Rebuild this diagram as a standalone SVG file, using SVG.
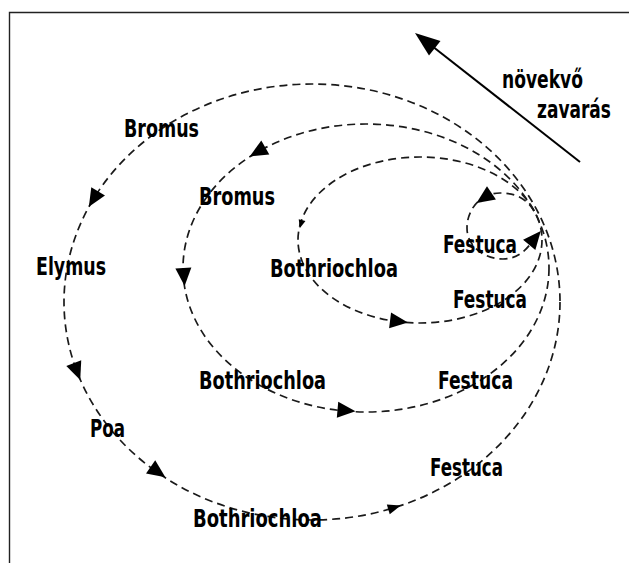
<svg xmlns="http://www.w3.org/2000/svg" xmlns:xlink="http://www.w3.org/1999/xlink" width="629" height="563" viewBox="0 0 629 563">
<style>
.frame{fill:none;stroke:#222;stroke-width:1.4}
.loop{fill:none;stroke:#1a1a1a;stroke-width:1.7;stroke-dasharray:8 5}
.t{font-family:"Liberation Sans Narrow","DejaVu Sans Condensed","DejaVu Sans",sans-serif;font-weight:bold;font-size:24.5px;fill:#000}
.ah{fill:#000}
</style>
<defs>
<path id="ah" d="M9,0 L-9,-8 L-9,8 Z"/>
<path id="ahm" d="M6.5,0 L-6.5,-5 L-6.5,5 Z"/>
<path id="ahs" d="M4.5,0 L-4,-3.5 L-4,3.5 Z"/>
</defs>
<rect width="629" height="563" fill="#fff"/>
<path class="frame" d="M9.5,563 L9.5,12.5 L629,12.5"/>
<g id="connectors">
  <ellipse class="loop" cx="312" cy="302" rx="248" ry="218"/>
  <ellipse class="loop" cx="366" cy="268" rx="183" ry="144"/>
  <ellipse class="loop" cx="420" cy="240" rx="122" ry="83"/>
  <path class="loop" d="M534,211 C525,196 512,193 500,193 C482,193 467,208 467,228 C467,247 485,259 503,259 C515,259 524,253 531,243"/>
  <g class="ah">
    <use xlink:href="#ah" transform="translate(93.5,199) rotate(121)"/>
    <use xlink:href="#ah" transform="translate(77,371.5) rotate(69)"/>
    <use xlink:href="#ah" transform="translate(158,472) rotate(35)"/>
    <use xlink:href="#ahm" transform="translate(394.5,507.5) rotate(-17)"/>
    <use xlink:href="#ah" transform="translate(257.5,152) rotate(150)"/>
    <use xlink:href="#ah" transform="translate(184,277) rotate(86)"/>
    <use xlink:href="#ah" transform="translate(346.5,410.5) rotate(5)"/>
    <use xlink:href="#ahs" transform="translate(301,224) rotate(106)"/>
    <use xlink:href="#ah" transform="translate(399,321.5) rotate(7)"/>
    <use xlink:href="#ah" transform="translate(484,198) rotate(146)"/>
    <use xlink:href="#ah" transform="translate(535,238) rotate(-50)"/>
  </g>
  <g id="disturbance-arrow">
    <line x1="580" y1="162" x2="432" y2="46" stroke="#000" stroke-width="2"/>
    <polygon points="415,33 440.5,41 429,55.5" fill="#000"/>
  </g>
</g>
<g id="label-novekvo"><text class="t" x="583" y="88" text-anchor="end" textLength="81" lengthAdjust="spacingAndGlyphs">növekvő</text></g>
<g id="label-zavaras"><text class="t" x="611" y="118" text-anchor="end" textLength="74" lengthAdjust="spacingAndGlyphs">zavarás</text></g>
<g id="n-bromus-1"><text class="t" x="124" y="137" textLength="75" lengthAdjust="spacingAndGlyphs">Bromus</text></g>
<g id="n-elymus"><text class="t" x="36" y="275" textLength="70" lengthAdjust="spacingAndGlyphs">Elymus</text></g>
<g id="n-poa"><text class="t" x="90" y="437" textLength="35" lengthAdjust="spacingAndGlyphs">Poa</text></g>
<g id="n-bothriochloa-1"><text class="t" x="193" y="527" textLength="129" lengthAdjust="spacingAndGlyphs">Bothriochloa</text></g>
<g id="n-festuca-1"><text class="t" x="430" y="476" textLength="73" lengthAdjust="spacingAndGlyphs">Festuca</text></g>
<g id="n-bromus-2"><text class="t" x="199" y="205" textLength="76" lengthAdjust="spacingAndGlyphs">Bromus</text></g>
<g id="n-bothriochloa-2"><text class="t" x="199" y="389" textLength="127" lengthAdjust="spacingAndGlyphs">Bothriochloa</text></g>
<g id="n-festuca-2"><text class="t" x="438" y="389" textLength="75" lengthAdjust="spacingAndGlyphs">Festuca</text></g>
<g id="n-bothriochloa-3"><text class="t" x="270" y="277" textLength="128" lengthAdjust="spacingAndGlyphs">Bothriochloa</text></g>
<g id="n-festuca-3"><text class="t" x="453" y="308" textLength="74" lengthAdjust="spacingAndGlyphs">Festuca</text></g>
<g id="n-festuca-4"><text class="t" x="443" y="253" textLength="74" lengthAdjust="spacingAndGlyphs">Festuca</text></g>
</svg>
